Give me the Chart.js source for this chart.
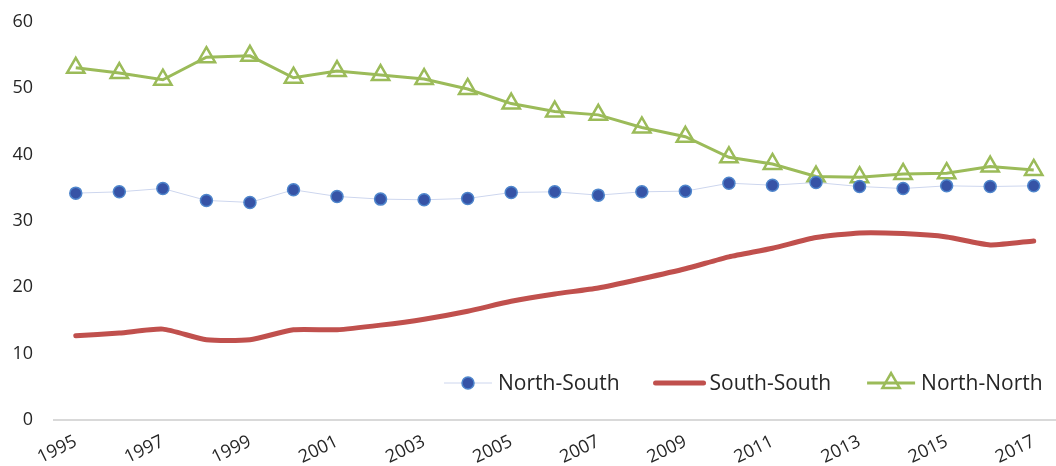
<!DOCTYPE html>
<html>
<head>
<meta charset="utf-8">
<script src="https://cdn.jsdelivr.net/npm/chart.js@4.4.1/dist/chart.umd.min.js"></script>
<style>
  html, body { margin: 0; padding: 0; background: #fff; overflow: hidden; }
  #wrap { position: relative; width: 1068px; height: 466px; }
</style>
</head>
<body>
<div id="wrap"><canvas id="chart"></canvas></div>
<script>
// Trade shares by direction, 1995-2017
const years = ['1995','1996','1997','1998','1999','2000','2001','2002','2003','2004','2005','2006',
               '2007','2008','2009','2010','2011','2012','2013','2014','2015','2016','2017'];
const northSouth = [34.2, 34.4, 34.9, 33.1, 32.8, 34.7, 33.7, 33.3, 33.2, 33.4, 34.3, 34.4,
                    33.9, 34.4, 34.5, 35.7, 35.4, 35.8, 35.2, 34.9, 35.3, 35.2, 35.3];
const southSouth = [12.7, 13.1, 13.7, 12.1, 12.1, 13.6, 13.6, 14.3, 15.2, 16.4, 17.9, 19.0,
                    19.9, 21.3, 22.8, 24.6, 25.9, 27.5, 28.2, 28.1, 27.6, 26.4, 27.0];
const northNorth = [53.1, 52.3, 51.3, 54.7, 54.9, 51.6, 52.6, 52.0, 51.4, 49.9, 47.7, 46.5,
                    46.0, 44.1, 42.7, 39.6, 38.6, 36.7, 36.6, 37.1, 37.2, 38.2, 37.7];
const yMin = 0, yMax = 60, yStep = 10;

const FONT = "'Open Sans', 'Noto Sans', sans-serif";
const TEXT = '#262626';

// Horizontal legend drawn inside the plot, just above the x axis
const innerLegend = {
  id: 'innerLegend',
  afterDatasetsDraw(chart) {
    const ctx = chart.ctx;
    const y = chart.chartArea.bottom - 37;
    const lineLen = 48;
    let x = 444;
    ctx.save();
    ctx.font = '21px ' + FONT;
    ctx.textBaseline = 'middle';
    ctx.textAlign = 'left';
    chart.data.datasets.forEach(ds => {
      ctx.beginPath();
      ctx.strokeStyle = ds.borderColor;
      ctx.lineWidth = ds.borderWidth;
      ctx.lineCap = ds.borderWidth > 3 ? 'round' : 'butt';
      ctx.moveTo(x, y);
      ctx.lineTo(x + lineLen, y);
      ctx.stroke();
      if (ds.pointRadius > 0) {
        ctx.lineCap = 'butt';
        ctx.fillStyle = ds.pointBackgroundColor;
        ctx.strokeStyle = ds.pointBorderColor;
        ctx.lineWidth = ds.pointBorderWidth;
        Chart.helpers.drawPoint(ctx, {
          pointStyle: ds.pointStyle,
          rotation: 0,
          radius: ds.pointRadius,
          borderWidth: ds.pointBorderWidth
        }, x + lineLen / 2, y);
      }
      ctx.fillStyle = TEXT;
      ctx.fillText(ds.label, x + lineLen + 6, y + 1);
      x += lineLen + 6 + ctx.measureText(ds.label).width + 36;
    });
    ctx.restore();
  }
};

new Chart(document.getElementById('chart'), {
  type: 'line',
  data: {
    labels: years,
    datasets: [
      {
        label: 'North-South',
        data: northSouth,
        borderColor: '#cdd6ee',
        borderWidth: 1,
        pointStyle: 'circle',
        pointRadius: 6,
        pointBackgroundColor: '#3653a6',
        pointBorderColor: '#4f86cc',
        pointBorderWidth: 1.5,
        tension: 0
      },
      {
        label: 'South-South',
        data: southSouth,
        borderColor: '#c0504d',
        borderWidth: 5,
        borderCapStyle: 'round',
        pointRadius: 0,
        tension: 0.2
      },
      {
        label: 'North-North',
        data: northNorth,
        borderColor: '#9bbb59',
        borderWidth: 3,
        pointStyle: 'triangle',
        pointRadius: 10,
        pointBackgroundColor: 'rgba(255,255,255,0)',
        pointBorderColor: '#9bbb59',
        pointBorderWidth: 2.5,
        tension: 0
      }
    ]
  },
  options: {
    responsive: true,
    maintainAspectRatio: false,
    animation: false,
    layout: { padding: { top: 22, right: 1, left: 0, bottom: 0 } },
    plugins: {
      legend: { display: false },
      tooltip: { enabled: false }
    },
    scales: {
      x: {
        type: 'category',
        offset: true,
        grid: { display: false, drawTicks: false },
        border: { display: true, color: '#d9d9d9', width: 2 },
        ticks: {
          autoSkip: false,
          maxRotation: 26,
          minRotation: 26,
          padding: 11,
          color: TEXT,
          font: { family: FONT, size: 18 },
          callback: function (value, index) {
            return index % 2 === 0 ? this.getLabelForValue(value) : '';
          }
        },
        afterFit: s => { s.height = 46; }
      },
      y: {
        min: yMin,
        max: yMax,
        grid: { display: false, drawTicks: false },
        border: { display: false },
        ticks: {
          stepSize: yStep,
          padding: 21,
          color: TEXT,
          font: { family: FONT, size: 18 }
        },
        afterFit: s => {
          s.width = 54;
          s.paddingTop = 10;
          s.paddingBottom = 10;
        }
      }
    }
  },
  plugins: [innerLegend]
});
</script>
</body>
</html>
